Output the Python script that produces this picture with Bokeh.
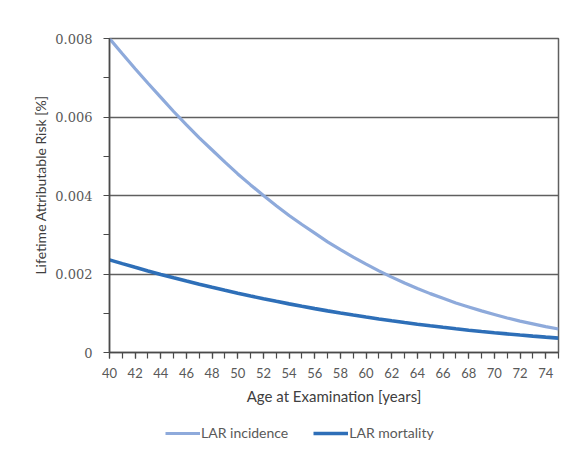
from bokeh.plotting import figure
from bokeh.models import Range1d, FixedTicker, Legend, LegendItem, Title
from bokeh.layouts import column
from bokeh.embed import file_html
from bokeh.resources import INLINE

# ---- data ----
ages = list(range(40, 76))
lar_incidence = [0.00800, 0.00761, 0.00723, 0.00686, 0.00650, 0.00614, 0.00580, 0.00547,
                 0.00516, 0.00485, 0.00455, 0.00427, 0.00400, 0.00374, 0.00349, 0.00326,
                 0.00304, 0.00282, 0.00262, 0.00243, 0.00225, 0.00208, 0.00192, 0.00177,
                 0.00163, 0.00150, 0.00138, 0.00126, 0.00116, 0.00106, 0.00097, 0.00088,
                 0.00080, 0.00073, 0.00066, 0.00060]
lar_mortality = [0.002360, 0.002264, 0.002170, 0.002079, 0.001990, 0.001904, 0.001820, 0.001739,
                 0.001660, 0.001584, 0.001510, 0.001439, 0.001370, 0.001303, 0.001239, 0.001178,
                 0.001118, 0.001061, 0.001006, 0.000953, 0.000903, 0.000854, 0.000808, 0.000763,
                 0.000721, 0.000680, 0.000642, 0.000605, 0.000569, 0.000536, 0.000504, 0.000474,
                 0.000445, 0.000418, 0.000392, 0.000367]
series_names = ["LAR incidence", "LAR mortality"]
series_colors = ["#8eaadb", "#2e6fb8"]

x_major_ticks = list(range(40, 75, 2))
x_minor_ticks = list(range(40, 76))
y_major_ticks = [0.0, 0.002, 0.004, 0.006, 0.008]
y_minor_ticks = [0.001, 0.003, 0.005, 0.007]
y_tick_labels = ["0", "0.002", "0.004", "0.006", "0.008"]
y_title = "Lifetime Attributable Risk [%]"
x_title = "Age at Examination [years]"

TEXT = "#595959"
GRID = "#5f5f5f"

p = figure(width=563, height=407, output_backend="svg", toolbar_location=None,
           x_range=Range1d(40, 75), y_range=Range1d(0, 0.008),
           min_border_left=109, min_border_right=5, min_border_top=38,
           min_border_bottom=55)
p.frame_width = 449
p.frame_height = 314
p.background_fill_color = "white"
p.border_fill_color = "white"
p.outline_line_color = GRID
p.outline_line_width = 1.5

# axes
p.xaxis.ticker = FixedTicker(ticks=x_major_ticks, minor_ticks=x_minor_ticks)
p.yaxis.ticker = FixedTicker(ticks=y_major_ticks, minor_ticks=y_minor_ticks)
p.yaxis.major_label_overrides = {v: s for v, s in zip(y_major_ticks, y_tick_labels)}

for ax in (p.xaxis, p.yaxis):
    ax.axis_line_color = "#4a4a4a"
    ax.axis_line_width = 1.5
    ax.major_tick_line_color = "#4a4a4a"
    ax.minor_tick_line_color = "#4a4a4a"
    ax.major_tick_line_width = 1.2
    ax.minor_tick_line_width = 1.2
    ax.major_tick_in = 0
    ax.minor_tick_in = 0
    ax.major_tick_out = 6
    ax.minor_tick_out = 6
    ax.major_label_text_color = TEXT
    ax.axis_label_text_color = "#404040"
    ax.axis_label_text_font = "Lato"
    ax.axis_label_text_font_style = "normal"
    ax.axis_label_text_font_size = "15px"

p.xaxis.major_label_text_font = "Lato"
p.xaxis.major_label_text_font_size = "13px"
p.xaxis.major_label_standoff = 9
p.xaxis.axis_label = x_title
p.xaxis.axis_label_standoff = 6

p.yaxis.major_label_text_font = "DejaVu Serif"
p.yaxis.major_label_text_font_size = "13px"
p.yaxis.major_label_standoff = 11

# y-axis title as a side title so it can sit slightly above the frame centre
yt = Title(text=y_title, align="right", offset=57, standoff=8,
           text_font="Lato", text_font_size="14px", text_font_style="normal",
           text_color="#404040")
p.add_layout(yt, "left")

p.xgrid.grid_line_color = None
p.ygrid.grid_line_color = GRID
p.ygrid.grid_line_width = 1.5

# lines
p.line(ages, lar_incidence, line_color=series_colors[0], line_width=3.2)
p.line(ages, lar_mortality, line_color=series_colors[1], line_width=3.6)

# legend strip below the chart (its frame is aligned with the chart's frame)
p2 = figure(width=563, height=34, output_backend="svg", toolbar_location=None,
            x_axis_type=None, y_axis_type=None,
            x_range=Range1d(0, 1), y_range=Range1d(0, 1),
            min_border_left=109, min_border_right=5, min_border_top=0, min_border_bottom=0)
p2.outline_line_color = None
p2.grid.grid_line_color = None
p2.border_fill_color = "white"
p2.background_fill_color = "white"
g1 = p2.line(ages, lar_incidence, line_color=series_colors[0], line_width=3.2)
g2 = p2.line(ages, lar_mortality, line_color=series_colors[1], line_width=3.6)
legend = Legend(items=[LegendItem(label=series_names[0], renderers=[g1]),
                       LegendItem(label=series_names[1], renderers=[g2])],
                orientation="horizontal", location=(56, 0),
                padding=0, margin=0, spacing=25,
                glyph_width=35, glyph_height=16, label_height=16,
                label_standoff=1,
                label_text_font="Lato", label_text_font_size="14px",
                label_text_color=TEXT,
                border_line_color=None, background_fill_alpha=0)
p2.add_layout(legend)

layout = column(p, p2, spacing=0)
open("out.html", "w").write(file_html(layout, INLINE))
